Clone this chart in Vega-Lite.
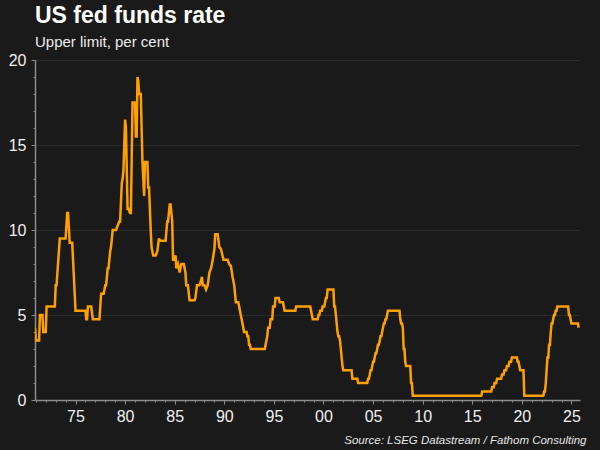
{
  "$schema": "https://vega.github.io/schema/vega-lite/v6.json",
  "autosize": "none",
  "width": 545,
  "height": 340,
  "padding": {"left": 35, "top": 60, "right": 20, "bottom": 50},
  "background": "#1a1a1a",
  "view": {"stroke": null},
  "title": {
    "text": "US fed funds rate",
    "subtitle": "Upper limit, per cent",
    "anchor": "start",
    "frame": "group",
    "font": "Liberation Sans",
    "fontSize": 23,
    "fontWeight": "bold",
    "color": "#ffffff",
    "subtitleFont": "Liberation Sans",
    "subtitleFontSize": 15,
    "subtitleColor": "#ececec",
    "subtitlePadding": 7,
    "offset": 2
  },
  "data": {
    "values": [
      {"date": "1970-12-01", "rate": 4.25},
      {"date": "1971-01-01", "rate": 3.5},
      {"date": "1971-05-01", "rate": 3.5},
      {"date": "1971-06-01", "rate": 5.0},
      {"date": "1971-09-01", "rate": 5.0},
      {"date": "1971-10-01", "rate": 4.0},
      {"date": "1972-01-01", "rate": 4.0},
      {"date": "1972-02-01", "rate": 5.5},
      {"date": "1972-12-01", "rate": 5.5},
      {"date": "1973-01-01", "rate": 6.75},
      {"date": "1973-02-01", "rate": 6.75},
      {"date": "1973-06-01", "rate": 9.5},
      {"date": "1974-01-01", "rate": 9.5},
      {"date": "1974-03-01", "rate": 11.0},
      {"date": "1974-04-01", "rate": 11.0},
      {"date": "1974-06-01", "rate": 9.25},
      {"date": "1974-09-01", "rate": 9.25},
      {"date": "1975-01-01", "rate": 5.25},
      {"date": "1976-01-01", "rate": 5.25},
      {"date": "1976-02-01", "rate": 4.75},
      {"date": "1976-03-01", "rate": 4.75},
      {"date": "1976-04-01", "rate": 5.5},
      {"date": "1976-08-01", "rate": 5.5},
      {"date": "1976-10-01", "rate": 4.75},
      {"date": "1977-06-01", "rate": 4.75},
      {"date": "1977-08-01", "rate": 6.25},
      {"date": "1977-11-01", "rate": 6.25},
      {"date": "1978-01-01", "rate": 6.75},
      {"date": "1978-02-01", "rate": 6.75},
      {"date": "1978-04-01", "rate": 7.75},
      {"date": "1978-05-01", "rate": 7.75},
      {"date": "1978-07-01", "rate": 8.75},
      {"date": "1978-08-01", "rate": 9.0},
      {"date": "1978-10-01", "rate": 10.0},
      {"date": "1979-02-01", "rate": 10.0},
      {"date": "1979-04-01", "rate": 10.25},
      {"date": "1979-06-01", "rate": 10.5},
      {"date": "1979-07-01", "rate": 10.5},
      {"date": "1979-09-01", "rate": 12.75},
      {"date": "1979-10-01", "rate": 13.0},
      {"date": "1979-11-01", "rate": 13.5},
      {"date": "1980-01-01", "rate": 16.5},
      {"date": "1980-02-01", "rate": 16.0},
      {"date": "1980-04-01", "rate": 11.25},
      {"date": "1980-05-01", "rate": 11.25},
      {"date": "1980-07-01", "rate": 11.0},
      {"date": "1980-08-01", "rate": 11.0},
      {"date": "1980-10-01", "rate": 17.5},
      {"date": "1981-01-01", "rate": 17.5},
      {"date": "1981-02-01", "rate": 15.5},
      {"date": "1981-03-01", "rate": 15.5},
      {"date": "1981-04-01", "rate": 19.0},
      {"date": "1981-05-01", "rate": 18.75},
      {"date": "1981-06-01", "rate": 18.0},
      {"date": "1981-08-01", "rate": 18.0},
      {"date": "1981-10-01", "rate": 14.0},
      {"date": "1981-12-01", "rate": 12.0},
      {"date": "1982-01-01", "rate": 14.0},
      {"date": "1982-04-01", "rate": 14.0},
      {"date": "1982-05-01", "rate": 12.5},
      {"date": "1982-06-01", "rate": 12.5},
      {"date": "1982-08-01", "rate": 10.0},
      {"date": "1982-09-01", "rate": 9.0},
      {"date": "1982-11-01", "rate": 8.5},
      {"date": "1983-02-01", "rate": 8.5},
      {"date": "1983-04-01", "rate": 8.75},
      {"date": "1983-06-01", "rate": 9.5},
      {"date": "1983-07-01", "rate": 9.375},
      {"date": "1984-02-01", "rate": 9.375},
      {"date": "1984-04-01", "rate": 10.5},
      {"date": "1984-05-01", "rate": 10.5},
      {"date": "1984-07-01", "rate": 11.5},
      {"date": "1984-08-01", "rate": 11.5},
      {"date": "1984-10-01", "rate": 10.5},
      {"date": "1984-11-01", "rate": 8.25},
      {"date": "1984-12-01", "rate": 8.25},
      {"date": "1985-02-01", "rate": 8.5},
      {"date": "1985-03-01", "rate": 7.75},
      {"date": "1985-05-01", "rate": 8.0},
      {"date": "1985-07-01", "rate": 7.5},
      {"date": "1985-09-01", "rate": 8.0},
      {"date": "1985-12-01", "rate": 8.0},
      {"date": "1986-02-01", "rate": 7.5},
      {"date": "1986-03-01", "rate": 6.75},
      {"date": "1986-05-01", "rate": 6.75},
      {"date": "1986-07-01", "rate": 5.875},
      {"date": "1987-01-01", "rate": 5.875},
      {"date": "1987-02-01", "rate": 6.0},
      {"date": "1987-04-01", "rate": 6.75},
      {"date": "1987-07-01", "rate": 6.75},
      {"date": "1987-08-01", "rate": 6.875},
      {"date": "1987-10-01", "rate": 7.25},
      {"date": "1987-11-01", "rate": 6.75},
      {"date": "1988-01-01", "rate": 6.75},
      {"date": "1988-03-01", "rate": 6.5},
      {"date": "1988-05-01", "rate": 6.75},
      {"date": "1988-07-01", "rate": 7.5},
      {"date": "1988-09-01", "rate": 7.75},
      {"date": "1988-11-01", "rate": 8.25},
      {"date": "1989-01-01", "rate": 8.875},
      {"date": "1989-02-01", "rate": 9.75},
      {"date": "1989-05-01", "rate": 9.75},
      {"date": "1989-07-01", "rate": 9.0},
      {"date": "1989-09-01", "rate": 8.875},
      {"date": "1989-12-01", "rate": 8.25},
      {"date": "1990-05-01", "rate": 8.25},
      {"date": "1990-07-01", "rate": 8.0},
      {"date": "1990-09-01", "rate": 7.875},
      {"date": "1990-11-01", "rate": 7.25},
      {"date": "1991-01-01", "rate": 6.75},
      {"date": "1991-03-01", "rate": 5.75},
      {"date": "1991-06-01", "rate": 5.75},
      {"date": "1991-09-01", "rate": 5.0},
      {"date": "1991-11-01", "rate": 4.5},
      {"date": "1992-01-01", "rate": 4.0},
      {"date": "1992-04-01", "rate": 4.0},
      {"date": "1992-05-01", "rate": 3.75},
      {"date": "1992-06-01", "rate": 3.75},
      {"date": "1992-07-01", "rate": 3.25},
      {"date": "1992-08-01", "rate": 3.25},
      {"date": "1992-09-01", "rate": 3.0},
      {"date": "1994-02-01", "rate": 3.0},
      {"date": "1994-03-01", "rate": 3.25},
      {"date": "1994-04-01", "rate": 3.5},
      {"date": "1994-05-01", "rate": 3.75},
      {"date": "1994-06-01", "rate": 4.25},
      {"date": "1994-08-01", "rate": 4.25},
      {"date": "1994-09-01", "rate": 4.75},
      {"date": "1994-11-01", "rate": 4.75},
      {"date": "1994-12-01", "rate": 5.5},
      {"date": "1995-02-01", "rate": 5.5},
      {"date": "1995-03-01", "rate": 6.0},
      {"date": "1995-07-01", "rate": 6.0},
      {"date": "1995-08-01", "rate": 5.75},
      {"date": "1995-12-01", "rate": 5.75},
      {"date": "1996-01-01", "rate": 5.5},
      {"date": "1996-02-01", "rate": 5.25},
      {"date": "1997-03-01", "rate": 5.25},
      {"date": "1997-04-01", "rate": 5.5},
      {"date": "1998-09-01", "rate": 5.5},
      {"date": "1998-10-01", "rate": 5.25},
      {"date": "1998-11-01", "rate": 5.0},
      {"date": "1998-12-01", "rate": 4.75},
      {"date": "1999-06-01", "rate": 4.75},
      {"date": "1999-07-01", "rate": 5.0},
      {"date": "1999-08-01", "rate": 5.0},
      {"date": "1999-09-01", "rate": 5.25},
      {"date": "1999-11-01", "rate": 5.25},
      {"date": "1999-12-01", "rate": 5.5},
      {"date": "2000-02-01", "rate": 5.5},
      {"date": "2000-03-01", "rate": 5.75},
      {"date": "2000-04-01", "rate": 6.0},
      {"date": "2000-05-01", "rate": 6.0},
      {"date": "2000-06-01", "rate": 6.5},
      {"date": "2001-01-01", "rate": 6.5},
      {"date": "2001-02-01", "rate": 5.5},
      {"date": "2001-03-01", "rate": 5.5},
      {"date": "2001-04-01", "rate": 5.0},
      {"date": "2001-05-01", "rate": 4.5},
      {"date": "2001-06-01", "rate": 4.0},
      {"date": "2001-07-01", "rate": 3.75},
      {"date": "2001-08-01", "rate": 3.75},
      {"date": "2001-09-01", "rate": 3.5},
      {"date": "2001-10-01", "rate": 3.0},
      {"date": "2001-11-01", "rate": 2.5},
      {"date": "2001-12-01", "rate": 2.0},
      {"date": "2002-01-01", "rate": 1.75},
      {"date": "2002-11-01", "rate": 1.75},
      {"date": "2002-12-01", "rate": 1.25},
      {"date": "2003-06-01", "rate": 1.25},
      {"date": "2003-07-01", "rate": 1.0},
      {"date": "2004-06-01", "rate": 1.0},
      {"date": "2004-07-01", "rate": 1.25},
      {"date": "2004-08-01", "rate": 1.25},
      {"date": "2004-09-01", "rate": 1.5},
      {"date": "2004-10-01", "rate": 1.75},
      {"date": "2004-11-01", "rate": 1.75},
      {"date": "2004-12-01", "rate": 2.0},
      {"date": "2005-01-01", "rate": 2.25},
      {"date": "2005-02-01", "rate": 2.25},
      {"date": "2005-03-01", "rate": 2.5},
      {"date": "2005-04-01", "rate": 2.75},
      {"date": "2005-05-01", "rate": 2.75},
      {"date": "2005-06-01", "rate": 3.0},
      {"date": "2005-07-01", "rate": 3.25},
      {"date": "2005-08-01", "rate": 3.25},
      {"date": "2005-09-01", "rate": 3.5},
      {"date": "2005-10-01", "rate": 3.75},
      {"date": "2005-11-01", "rate": 3.75},
      {"date": "2005-12-01", "rate": 4.0},
      {"date": "2006-01-01", "rate": 4.25},
      {"date": "2006-02-01", "rate": 4.5},
      {"date": "2006-03-01", "rate": 4.5},
      {"date": "2006-04-01", "rate": 4.75},
      {"date": "2006-05-01", "rate": 4.75},
      {"date": "2006-06-01", "rate": 5.0},
      {"date": "2006-07-01", "rate": 5.25},
      {"date": "2007-09-01", "rate": 5.25},
      {"date": "2007-10-01", "rate": 4.75},
      {"date": "2007-11-01", "rate": 4.5},
      {"date": "2007-12-01", "rate": 4.5},
      {"date": "2008-01-01", "rate": 4.25},
      {"date": "2008-02-01", "rate": 3.0},
      {"date": "2008-03-01", "rate": 3.0},
      {"date": "2008-04-01", "rate": 2.25},
      {"date": "2008-05-01", "rate": 2.0},
      {"date": "2008-10-01", "rate": 2.0},
      {"date": "2008-11-01", "rate": 1.0},
      {"date": "2008-12-01", "rate": 1.0},
      {"date": "2009-01-01", "rate": 0.25},
      {"date": "2015-12-01", "rate": 0.25},
      {"date": "2016-01-01", "rate": 0.5},
      {"date": "2016-12-01", "rate": 0.5},
      {"date": "2017-01-01", "rate": 0.75},
      {"date": "2017-03-01", "rate": 0.75},
      {"date": "2017-04-01", "rate": 1.0},
      {"date": "2017-06-01", "rate": 1.0},
      {"date": "2017-07-01", "rate": 1.25},
      {"date": "2017-12-01", "rate": 1.25},
      {"date": "2018-01-01", "rate": 1.5},
      {"date": "2018-03-01", "rate": 1.5},
      {"date": "2018-04-01", "rate": 1.75},
      {"date": "2018-06-01", "rate": 1.75},
      {"date": "2018-07-01", "rate": 2.0},
      {"date": "2018-09-01", "rate": 2.0},
      {"date": "2018-10-01", "rate": 2.25},
      {"date": "2018-12-01", "rate": 2.25},
      {"date": "2019-01-01", "rate": 2.5},
      {"date": "2019-07-01", "rate": 2.5},
      {"date": "2019-08-01", "rate": 2.25},
      {"date": "2019-09-01", "rate": 2.25},
      {"date": "2019-10-01", "rate": 2.0},
      {"date": "2019-11-01", "rate": 1.75},
      {"date": "2020-03-01", "rate": 1.75},
      {"date": "2020-04-01", "rate": 0.25},
      {"date": "2022-03-01", "rate": 0.25},
      {"date": "2022-04-01", "rate": 0.5},
      {"date": "2022-05-01", "rate": 0.5},
      {"date": "2022-06-01", "rate": 1.0},
      {"date": "2022-07-01", "rate": 1.75},
      {"date": "2022-08-01", "rate": 2.5},
      {"date": "2022-09-01", "rate": 2.5},
      {"date": "2022-10-01", "rate": 3.25},
      {"date": "2022-11-01", "rate": 3.25},
      {"date": "2022-12-01", "rate": 4.0},
      {"date": "2023-01-01", "rate": 4.5},
      {"date": "2023-02-01", "rate": 4.5},
      {"date": "2023-03-01", "rate": 4.75},
      {"date": "2023-04-01", "rate": 5.0},
      {"date": "2023-05-01", "rate": 5.0},
      {"date": "2023-06-01", "rate": 5.25},
      {"date": "2023-07-01", "rate": 5.25},
      {"date": "2023-08-01", "rate": 5.5},
      {"date": "2024-09-01", "rate": 5.5},
      {"date": "2024-10-01", "rate": 5.0},
      {"date": "2024-11-01", "rate": 5.0},
      {"date": "2024-12-01", "rate": 4.75},
      {"date": "2025-01-01", "rate": 4.5},
      {"date": "2025-09-01", "rate": 4.5},
      {"date": "2025-09-20", "rate": 4.25}
    ]
  },
  "mark": {"type": "line", "color": "#ffa000", "strokeWidth": 2.5, "interpolate": "linear", "clip": true},
  "encoding": {
    "x": {
      "field": "date",
      "type": "temporal",
      "scale": {"domain": [{"year": 1970, "month": 12, "date": 1}, {"year": 2025, "month": 11, "date": 12}], "nice": false},
      "axis": {
        "title": "Source: LSEG Datastream / Fathom Consulting",
        "titleFont": "Liberation Sans",
        "titleFontSize": 11.5,
        "titleFontStyle": "italic",
        "titleFontWeight": "normal",
        "titleColor": "#e6e6e6",
        "titleAlign": "right",
        "titleAnchor": "end",
        "titleBaseline": "alphabetic",
        "titleX": 551,
        "titleY": 43,
        "tickCount": {"interval": "year", "step": 1},
        "labelExpr": "year(datum.value) % 5 === 0 ? timeFormat(datum.value, '%y') : ''",
        "labelOverlap": false,
        "labelFlush": false,
        "labelFont": "Liberation Sans",
        "labelFontSize": 16,
        "labelColor": "#f0f0f0",
        "labelPadding": 4,
        "domainColor": "#8c8c8c",
        "domainWidth": 1.5,
        "tickColor": "#8c8c8c",
        "tickWidth": 1,
        "tickSize": {"condition": {"test": "year(datum.value) % 5 === 0", "value": 4}, "value": 2},
        "grid": false
      }
    },
    "y": {
      "field": "rate",
      "type": "quantitative",
      "scale": {"domain": [0, 20], "nice": false},
      "axis": {
        "title": null,
        "values": [0, 1, 2, 3, 4, 5, 6, 7, 8, 9, 10, 11, 12, 13, 14, 15, 16, 17, 18, 19, 20],
        "labelExpr": "datum.value % 5 === 0 ? datum.label : ''",
        "labelOverlap": false,
        "labelFont": "Liberation Sans",
        "labelFontSize": 16,
        "labelColor": "#f0f0f0",
        "labelPadding": 5,
        "domainColor": "#8c8c8c",
        "domainWidth": 1.5,
        "tickColor": "#8c8c8c",
        "tickWidth": 1,
        "tickSize": {"condition": {"test": "datum.value % 5 === 0", "value": 4}, "value": 2},
        "grid": true,
        "gridColor": "#2c2c2c",
        "gridWidth": 1,
        "gridOpacity": {"condition": {"test": "datum.value % 5 === 0 && datum.value > 0", "value": 1}, "value": 0}
      }
    }
  }
}
